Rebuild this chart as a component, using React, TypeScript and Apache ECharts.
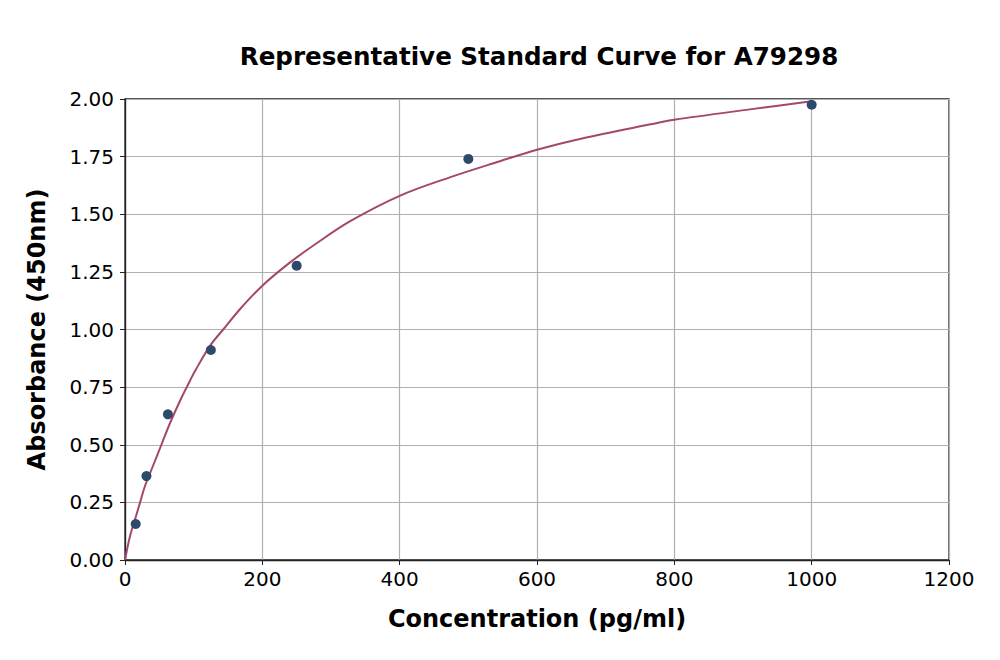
import React, { useEffect, useRef } from 'react';
import * as echarts from 'echarts';

const standardConc = [15.6, 31.25, 62.5, 125, 250, 500, 1000];
const standardAbs = [0.156, 0.364, 0.632, 0.911, 1.277, 1.74, 1.975];

// fitted curve
const curveConc = [0, 7, 15, 22, 29, 41, 53, 65, 80, 95, 102, 124, 143, 168, 200, 240, 277, 328, 400, 473, 546, 600, 667, 765, 800, 910, 1000];
const curveAbs = [0, 0.1, 0.18, 0.25, 0.32, 0.41, 0.5, 0.59, 0.69, 0.78, 0.82, 0.93, 1.0, 1.09, 1.19, 1.29, 1.37, 1.47, 1.58, 1.66, 1.73, 1.78, 1.83, 1.89, 1.91, 1.955, 1.99];

const font = 'DejaVu Sans';

const App: React.FC = () => {
  const chartRef = useRef<HTMLDivElement>(null);

  useEffect(() => {
    const chart = echarts.init(chartRef.current!, undefined, { renderer: 'svg' });

    chart.setOption({
      animation: false,
      title: {
        text: 'Representative Standard Curve for A79298',
        left: 534,
        top: 39,
        textAlign: 'center',
        textStyle: { fontFamily: font, fontSize: 24.6, fontWeight: 'bold', color: '#000' },
      },
      grid: {
        left: 125,
        right: 51,
        top: 99,
        bottom: 100,
        show: true,
        borderColor: '#222',
        borderWidth: 1.3,
      },
      xAxis: {
        type: 'value',
        min: 0,
        max: 1200,
        interval: 200,
        name: 'Concentration (pg/ml)',
        nameLocation: 'middle',
        nameGap: 47,
        nameTextStyle: { fontFamily: font, fontSize: 24, fontWeight: 'bold', color: '#000' },
        axisLine: { show: true, lineStyle: { color: '#222', width: 1.3 } },
        axisTick: { show: true, length: 5, lineStyle: { color: '#222' } },
        axisLabel: {
          fontFamily: font,
          fontSize: 20,
          color: '#000',
          margin: 9,
          formatter: (v: number) => String(v),
        },
        splitLine: { show: true, lineStyle: { color: '#b0b0b0', width: 1.2 } },
      },
      yAxis: {
        type: 'value',
        min: 0,
        max: 2,
        interval: 0.25,
        name: 'Absorbance (450nm)',
        nameLocation: 'middle',
        nameGap: 76,
        nameTextStyle: { fontFamily: font, fontSize: 24, fontWeight: 'bold', color: '#000' },
        axisLine: { show: true, lineStyle: { color: '#222', width: 1.3 } },
        axisTick: { show: true, length: 5, lineStyle: { color: '#222' } },
        axisLabel: {
          fontFamily: font,
          fontSize: 20,
          color: '#000',
          margin: 11,
          formatter: (v: number) => v.toFixed(2),
        },
        splitLine: { show: true, lineStyle: { color: '#b0b0b0', width: 1.2 } },
      },
      series: [
        {
          type: 'line',
          data: curveConc.map((c, i) => [c, curveAbs[i]]),
          smooth: 0.35,
          showSymbol: false,
          lineStyle: { color: '#a3476c', width: 2 },
          z: 2,
        },
        {
          type: 'scatter',
          data: standardConc.map((c, i) => [c, standardAbs[i]]),
          symbolSize: 10,
          itemStyle: { color: '#2e4a6b', opacity: 1 },
          z: 3,
        },
      ],
    });

    return () => {
      chart.dispose();
    };
  }, []);

  return <div ref={chartRef} style={{ width: '1000px', height: '660px', margin: '-8px' }} />;
};

export default App;
